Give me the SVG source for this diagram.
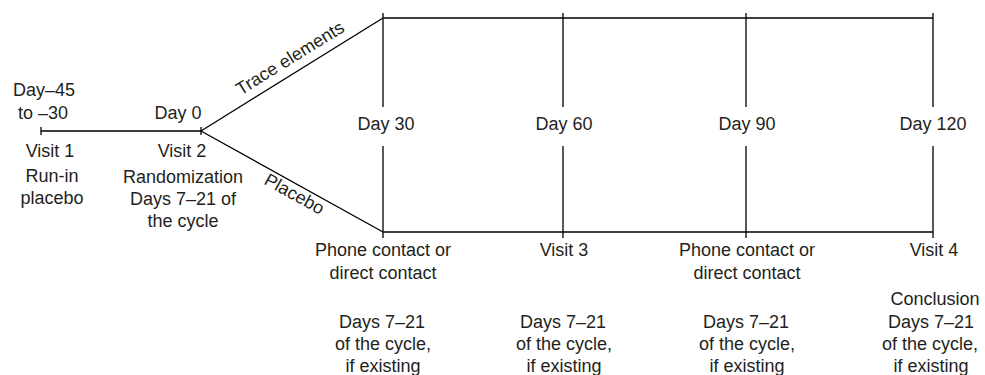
<svg xmlns="http://www.w3.org/2000/svg" width="985" height="375" viewBox="0 0 985 375">
<style>
  text { font-family: "Liberation Sans", Arial, sans-serif; font-size: 18px; fill: #231f20; text-anchor: middle; }
  .ln { stroke: #000; stroke-width: 1.3; fill: none; }
</style>
<rect width="985" height="375" fill="#fff"/>
<g id="connectors">
  <line class="ln" x1="41" y1="131" x2="201" y2="131"/>
  <line class="ln" x1="41" y1="127" x2="41" y2="135"/>
  <line class="ln" x1="201" y1="127" x2="201" y2="135"/>
  <line class="ln" x1="201" y1="131" x2="383" y2="18"/>
  <line class="ln" x1="201" y1="131" x2="383" y2="232"/>
  <line class="ln" x1="383" y1="18" x2="933" y2="18"/>
  <line class="ln" x1="383" y1="232" x2="933" y2="232"/>
  <line class="ln" x1="383" y1="13" x2="383" y2="107"/>
  <line class="ln" x1="383" y1="146" x2="383" y2="238"/>
  <line class="ln" x1="563" y1="13" x2="563" y2="107"/>
  <line class="ln" x1="563" y1="146" x2="563" y2="238"/>
  <line class="ln" x1="746" y1="13" x2="746" y2="107"/>
  <line class="ln" x1="746" y1="146" x2="746" y2="238"/>
  <line class="ln" x1="933" y1="13" x2="933" y2="107"/>
  <line class="ln" x1="933" y1="146" x2="933" y2="238"/>
  <text transform="translate(297.9,70.8) rotate(-31.8)" x="0" y="-9">Trace elements</text>
  <text transform="translate(299.3,185.3) rotate(29)" x="0" y="16">Placebo</text>
</g>
<g id="visit1">
  <text x="44" y="96">Day–45</text>
  <text x="43" y="119">to –30</text>
  <text x="50" y="157">Visit 1</text>
  <text x="52" y="182">Run-in</text>
  <text x="52" y="204">placebo</text>
</g>
<g id="visit2">
  <text x="178" y="119">Day 0</text>
  <text x="182" y="157">Visit 2</text>
  <text x="183" y="183">Randomization</text>
  <text x="183" y="205">Days 7–21 of</text>
  <text x="183" y="227">the cycle</text>
</g>
<g id="day30">
  <text x="386" y="130">Day 30</text>
  <text x="383" y="256">Phone contact or</text>
  <text x="383" y="279">direct contact</text>
  <text x="382" y="328">Days 7–21</text>
  <text x="383" y="350">of the cycle,</text>
  <text x="383" y="372">if existing</text>
</g>
<g id="day60">
  <text x="564" y="130">Day 60</text>
  <text x="564" y="256">Visit 3</text>
  <text x="563" y="328">Days 7–21</text>
  <text x="564" y="350">of the cycle,</text>
  <text x="564" y="372">if existing</text>
</g>
<g id="day90">
  <text x="747" y="130">Day 90</text>
  <text x="747" y="256">Phone contact or</text>
  <text x="747" y="279">direct contact</text>
  <text x="746" y="328">Days 7–21</text>
  <text x="747" y="350">of the cycle,</text>
  <text x="747" y="372">if existing</text>
</g>
<g id="day120">
  <text x="933" y="130">Day 120</text>
  <text x="934" y="256">Visit 4</text>
  <text x="935" y="305">Conclusion</text>
  <text x="931" y="328">Days 7–21</text>
  <text x="930" y="350">of the cycle,</text>
  <text x="931" y="372">if existing</text>
</g>
</svg>
